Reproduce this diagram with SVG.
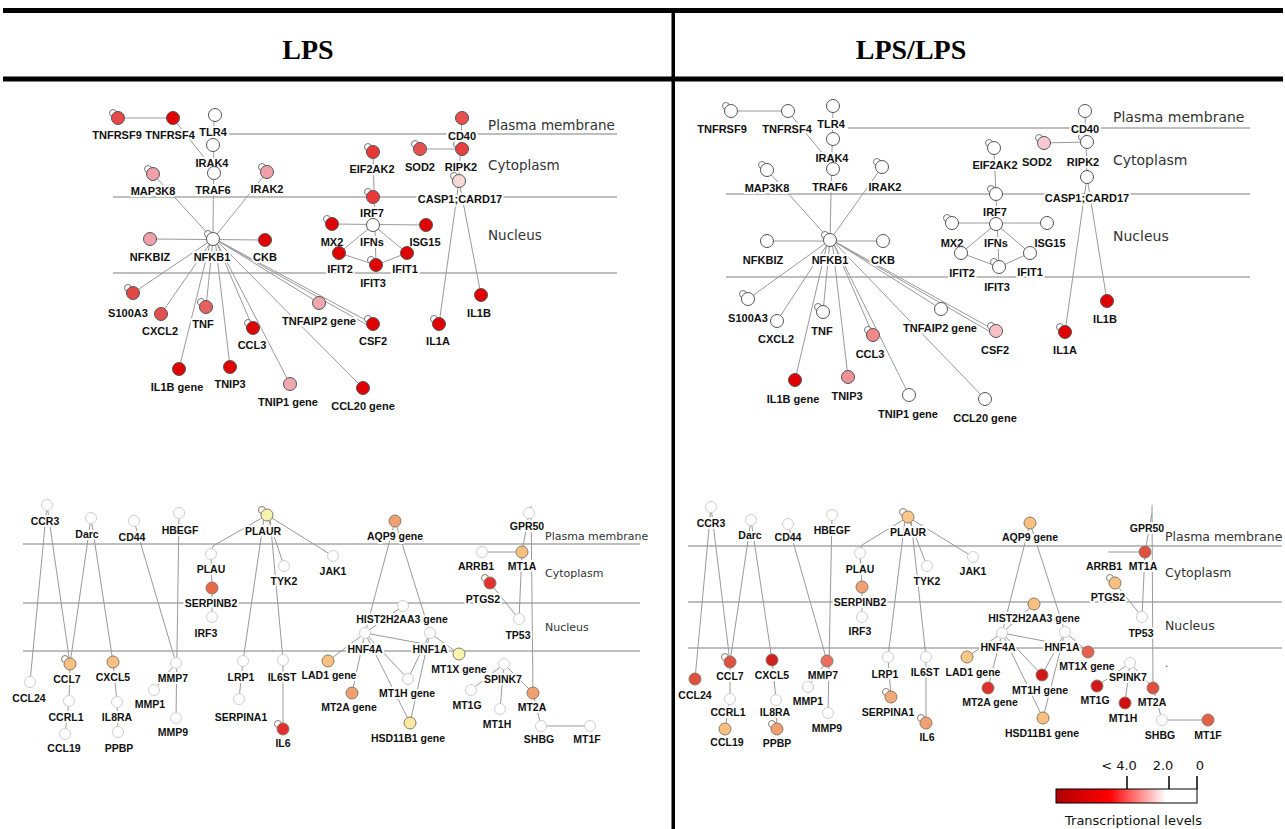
<svg xmlns="http://www.w3.org/2000/svg" width="1285" height="829" viewBox="0 0 1285 829">
<defs>
<linearGradient id="grad" x1="0" y1="0" x2="1" y2="0">
<stop offset="0" stop-color="#b00000"/>
<stop offset="0.38" stop-color="#ff0000"/>
<stop offset="0.62" stop-color="#ff9a9a"/>
<stop offset="0.78" stop-color="#ffffff"/>
<stop offset="1" stop-color="#ffffff"/>
</linearGradient>
</defs>
<style>
.hd{font-family:"Liberation Serif",serif;font-weight:bold;font-size:28px;text-anchor:middle;fill:#000}
.cm{stroke:#a8a8a8;stroke-width:1.5;fill:none}
.ct{font-family:"DejaVu Sans",sans-serif;fill:#333}
.e line,.e polyline{stroke:#9a9a9a;stroke-width:1;fill:none}
.n circle{stroke:#555;stroke-width:1}
.n circle.s{fill:#fff;stroke:#777}
.f circle{stroke:#cfcfcf;stroke-width:1;fill:#fff}
.f circle.c{stroke:#8a7a6a}
text.l{font-family:"Liberation Sans",Arial,sans-serif;font-weight:bold;font-size:11px;text-anchor:middle;fill:#111;paint-order:stroke;stroke:#fff;stroke-width:4px;stroke-linejoin:round}
.f text.l{font-size:10.5px}
.lg{font-family:"DejaVu Sans",sans-serif;font-size:13px;fill:#111}
</style>
<rect width="1285" height="829" fill="#fff"/>
<!-- frame -->
<g id="frame">
<rect x="3" y="8" width="1280" height="5" fill="#000"/>
<rect x="3" y="76.5" width="1280" height="5" fill="#000"/>
<rect x="671.5" y="8" width="3.5" height="821" fill="#000"/>
<text class="hd" x="308" y="59">LPS</text>
<text class="hd" x="911" y="59">LPS/LPS</text>
</g>
<!-- compartments -->
<g id="compartments">
<line class="cm" x1="228" y1="134" x2="617" y2="134"/>
<line class="cm" x1="113" y1="197" x2="617" y2="197"/>
<line class="cm" x1="113" y1="273" x2="617" y2="273"/>
<text class="ct" x="488" y="130" font-size="13.5">Plasma membrane</text>
<text class="ct" x="488" y="170" font-size="13.5">Cytoplasm</text>
<text class="ct" x="488" y="240" font-size="13.5">Nucleus</text>
<line class="cm" x1="848" y1="128" x2="1250" y2="128"/>
<line class="cm" x1="726" y1="194" x2="1250" y2="194"/>
<line class="cm" x1="726" y1="277" x2="1250" y2="277"/>
<text class="ct" x="1113" y="122" font-size="14">Plasma membrane</text>
<text class="ct" x="1113" y="165" font-size="14">Cytoplasm</text>
<text class="ct" x="1113" y="241" font-size="14">Nucleus</text>
<line class="cm" x1="23" y1="544" x2="640" y2="544"/>
<line class="cm" x1="23" y1="603" x2="640" y2="603"/>
<line class="cm" x1="23" y1="651" x2="640" y2="651"/>
<text class="ct" x="545" y="540" font-size="11">Plasma membrane</text>
<text class="ct" x="545" y="577" font-size="11">Cytoplasm</text>
<text class="ct" x="545" y="631" font-size="11">Nucleus</text>
<line class="cm" x1="688" y1="546" x2="1282" y2="546"/>
<line class="cm" x1="688" y1="602" x2="1282" y2="602"/>
<line class="cm" x1="688" y1="648" x2="1282" y2="648"/>
<text class="ct" x="1165" y="541" font-size="12.5">Plasma membrane</text>
<text class="ct" x="1165" y="577" font-size="12.5">Cytoplasm</text>
<text class="ct" x="1165" y="630" font-size="12.5">Nucleus</text>
<text class="ct" x="1165" y="667" font-size="10">.</text>
</g>
<!-- connectors -->
<g id="connectors" class="e">
<!-- top left -->
<line x1="118" y1="118" x2="173" y2="118"/>
<line x1="175" y1="121" x2="211" y2="166"/>
<line x1="214" y1="115" x2="213" y2="239"/>
<line x1="153" y1="174" x2="213" y2="239"/>
<line x1="267" y1="172" x2="213" y2="239"/>
<line x1="150" y1="239" x2="265" y2="240"/>
<line x1="213" y1="239" x2="133" y2="293"/>
<line x1="213" y1="239" x2="161" y2="314"/>
<line x1="213" y1="239" x2="206" y2="307"/>
<line x1="211" y1="239" x2="179" y2="369"/>
<line x1="215" y1="239" x2="230" y2="367"/>
<line x1="215" y1="239" x2="253" y2="328"/>
<line x1="215" y1="239" x2="290" y2="384"/>
<line x1="215" y1="239" x2="319" y2="303"/>
<line x1="215" y1="239" x2="373" y2="324"/>
<line x1="218" y1="241" x2="371" y2="327"/>
<line x1="215" y1="239" x2="363" y2="388"/>
<line x1="373" y1="152" x2="376" y2="265"/>
<line x1="332" y1="224" x2="426" y2="225"/>
<polyline points="339,253 373,225 407,253"/>
<polyline points="339,253 376,265 407,253"/>
<line x1="462" y1="118" x2="459" y2="181"/>
<line x1="420" y1="149" x2="462" y2="149"/>
<line x1="459" y1="181" x2="439" y2="324"/>
<line x1="459" y1="181" x2="481" y2="295"/>
<!-- top right -->
<line x1="731" y1="111" x2="788" y2="111"/>
<line x1="791" y1="115" x2="824" y2="155"/>
<line x1="833" y1="106" x2="830" y2="240"/>
<line x1="767" y1="170" x2="830" y2="240"/>
<line x1="882" y1="167" x2="830" y2="240"/>
<line x1="767" y1="241" x2="883" y2="241"/>
<line x1="830" y1="240" x2="748" y2="299"/>
<line x1="830" y1="240" x2="777" y2="321"/>
<line x1="830" y1="240" x2="823" y2="312"/>
<line x1="828" y1="240" x2="795" y2="380"/>
<line x1="832" y1="240" x2="848" y2="377"/>
<line x1="832" y1="240" x2="873" y2="335"/>
<line x1="832" y1="240" x2="909" y2="395"/>
<line x1="832" y1="240" x2="941" y2="309"/>
<line x1="832" y1="240" x2="996" y2="331"/>
<line x1="835" y1="242" x2="994" y2="334"/>
<line x1="832" y1="240" x2="985" y2="399"/>
<line x1="994" y1="148" x2="999" y2="267"/>
<line x1="952" y1="223" x2="1047" y2="223"/>
<polyline points="961,253 996,224 1030,253"/>
<polyline points="961,253 999,267 1030,253"/>
<line x1="1085" y1="111" x2="1087" y2="177"/>
<line x1="1044" y1="143" x2="1087" y2="142"/>
<line x1="1087" y1="177" x2="1065" y2="332"/>
<line x1="1087" y1="177" x2="1107" y2="301"/>
<!-- bottom left -->
<line x1="47" y1="505" x2="30" y2="682"/>
<line x1="47" y1="505" x2="70" y2="664"/>
<line x1="91" y1="518" x2="70" y2="664"/>
<line x1="91" y1="518" x2="113" y2="662"/>
<line x1="134" y1="521" x2="176" y2="663"/>
<line x1="179" y1="513" x2="176" y2="718"/>
<line x1="176" y1="663" x2="154" y2="690"/>
<polyline points="70,664 69,701 65,734"/>
<polyline points="113,662 117,702 118,732"/>
<polyline points="267,515 213,546 211,554"/>
<line x1="267" y1="515" x2="284" y2="566"/>
<line x1="267" y1="515" x2="333" y2="556"/>
<line x1="264" y1="518" x2="243" y2="661"/>
<line x1="270" y1="518" x2="283" y2="660"/>
<polyline points="211,554 212,588 212,617"/>
<line x1="243" y1="661" x2="239" y2="699"/>
<line x1="283" y1="660" x2="283" y2="729"/>
<line x1="395" y1="521" x2="365" y2="633"/>
<line x1="395" y1="521" x2="430" y2="633"/>
<line x1="403" y1="606" x2="365" y2="633"/>
<line x1="365" y1="633" x2="430" y2="645"/>
<line x1="365" y1="633" x2="328" y2="661"/>
<line x1="365" y1="633" x2="352" y2="693"/>
<line x1="365" y1="633" x2="408" y2="679"/>
<line x1="365" y1="633" x2="410" y2="723"/>
<line x1="430" y1="633" x2="408" y2="679"/>
<line x1="430" y1="633" x2="410" y2="723"/>
<line x1="430" y1="633" x2="459" y2="654"/>
<line x1="529" y1="513" x2="522" y2="552"/>
<line x1="482" y1="552" x2="522" y2="552"/>
<line x1="522" y1="552" x2="519" y2="619"/>
<line x1="490" y1="583" x2="519" y2="619"/>
<line x1="531" y1="506" x2="533" y2="693"/>
<line x1="504" y1="664" x2="471" y2="690"/>
<line x1="504" y1="664" x2="500" y2="709"/>
<line x1="504" y1="664" x2="533" y2="693"/>
<polyline points="533,693 541,726 590,726"/>
<!-- bottom right -->
<line x1="711" y1="507" x2="695" y2="679"/>
<line x1="711" y1="507" x2="730" y2="662"/>
<line x1="751" y1="520" x2="730" y2="662"/>
<line x1="751" y1="520" x2="772" y2="660"/>
<line x1="788" y1="524" x2="827" y2="661"/>
<line x1="832" y1="515" x2="828" y2="713"/>
<line x1="827" y1="661" x2="808" y2="687"/>
<polyline points="730,662 730,699 725,729"/>
<polyline points="772,660 776,700 777,729"/>
<polyline points="908,517 862,545 860,553"/>
<line x1="908" y1="517" x2="927" y2="566"/>
<line x1="908" y1="517" x2="973" y2="557"/>
<line x1="905" y1="520" x2="888" y2="657"/>
<line x1="911" y1="520" x2="926" y2="657"/>
<polyline points="860,553 862,587 862,617"/>
<line x1="888" y1="657" x2="891" y2="697"/>
<line x1="926" y1="657" x2="926" y2="723"/>
<line x1="1030" y1="523" x2="1002" y2="633"/>
<line x1="1030" y1="523" x2="1065" y2="632"/>
<line x1="1034" y1="604" x2="1002" y2="633"/>
<line x1="1002" y1="633" x2="1065" y2="645"/>
<line x1="1002" y1="633" x2="967" y2="657"/>
<line x1="1002" y1="633" x2="988" y2="688"/>
<line x1="1002" y1="633" x2="1042" y2="675"/>
<line x1="1002" y1="633" x2="1043" y2="718"/>
<line x1="1065" y1="632" x2="1042" y2="675"/>
<line x1="1065" y1="632" x2="1043" y2="718"/>
<line x1="1065" y1="632" x2="1088" y2="652"/>
<line x1="1152" y1="513" x2="1145" y2="552"/>
<line x1="1108" y1="552" x2="1145" y2="552"/>
<line x1="1145" y1="552" x2="1142" y2="617"/>
<line x1="1115" y1="583" x2="1142" y2="617"/>
<line x1="1152" y1="505" x2="1153" y2="688"/>
<line x1="1130" y1="663" x2="1097" y2="686"/>
<line x1="1130" y1="663" x2="1125" y2="703"/>
<line x1="1130" y1="663" x2="1153" y2="688"/>
<polyline points="1153,688 1162,720 1208,720"/>
</g>
<!-- nodes: top left (LPS) -->
<g id="tl-TNFRSF9" class="n"><circle class="s" cx="113" cy="113" r="3.5"/><circle cx="118" cy="118" r="6.5" fill="#e84848"/><text class="l" x="117" y="139">TNFRSF9</text></g>
<g id="tl-TNFRSF4" class="n"><circle cx="173" cy="118" r="6.5" fill="#e00000"/><text class="l" x="170" y="139">TNFRSF4</text></g>
<g id="tl-TLR4" class="n"><circle cx="215" cy="115" r="6.5" fill="#fff"/><text class="l" x="213" y="136">TLR4</text></g>
<g id="tl-IRAK4" class="n"><circle cx="213" cy="145" r="6.5" fill="#fff"/><text class="l" x="212" y="167">IRAK4</text></g>
<g id="tl-TRAF6" class="n"><circle cx="214" cy="173" r="6.5" fill="#fff"/><text class="l" x="213" y="194">TRAF6</text></g>
<g id="tl-MAP3K8" class="n"><circle class="s" cx="148" cy="169" r="3.5"/><circle cx="153" cy="174" r="6.5" fill="#f0a0a8"/><text class="l" x="153" y="195">MAP3K8</text></g>
<g id="tl-IRAK2" class="n"><circle class="s" cx="262" cy="167" r="3.5"/><circle cx="267" cy="172" r="6.5" fill="#f0a0a8"/><text class="l" x="267" y="193">IRAK2</text></g>
<g id="tl-NFKB1" class="n"><circle class="s" cx="208" cy="234" r="3.5"/><circle cx="213" cy="239" r="6.5" fill="#fff"/><text class="l" x="212" y="261">NFKB1</text></g>
<g id="tl-NFKBIZ" class="n"><circle cx="150" cy="239" r="6.5" fill="#f0a0a8"/><text class="l" x="150" y="261">NFKBIZ</text></g>
<g id="tl-CKB" class="n"><circle cx="265" cy="240" r="6.5" fill="#e00000"/><text class="l" x="265" y="261">CKB</text></g>
<g id="tl-EIF2AK2" class="n"><circle class="s" cx="368" cy="147" r="3.5"/><circle cx="373" cy="152" r="6.5" fill="#e83838"/><text class="l" x="372" y="173">EIF2AK2</text></g>
<g id="tl-IRF7" class="n"><circle class="s" cx="368" cy="192" r="3.5"/><circle cx="373" cy="197" r="6.5" fill="#e83838"/><text class="l" x="372" y="217">IRF7</text></g>
<g id="tl-IFNs" class="n"><circle cx="373" cy="225" r="6.5" fill="#fff"/><text class="l" x="372" y="246">IFNs</text></g>
<g id="tl-MX2" class="n"><circle class="s" cx="327" cy="219" r="3.5"/><circle cx="332" cy="224" r="6.5" fill="#e00000"/><text class="l" x="332" y="246">MX2</text></g>
<g id="tl-ISG15" class="n"><circle cx="426" cy="225" r="6.5" fill="#e00000"/><text class="l" x="425" y="246">ISG15</text></g>
<g id="tl-IFIT2" class="n"><circle cx="339" cy="253" r="6.5" fill="#e00000"/><text class="l" x="340" y="273">IFIT2</text></g>
<g id="tl-IFIT1" class="n"><circle cx="407" cy="253" r="6.5" fill="#e00000"/><text class="l" x="405" y="273">IFIT1</text></g>
<g id="tl-IFIT3" class="n"><circle class="s" cx="371" cy="260" r="3.5"/><circle cx="376" cy="265" r="6.5" fill="#e00000"/><text class="l" x="373" y="287">IFIT3</text></g>
<g id="tl-SOD2" class="n"><circle class="s" cx="415" cy="144" r="3.5"/><circle cx="420" cy="149" r="6.5" fill="#e85050"/><text class="l" x="420" y="171">SOD2</text></g>
<g id="tl-RIPK2" class="n"><circle class="s" cx="457" cy="144" r="3.5"/><circle cx="462" cy="149" r="6.5" fill="#e84040"/><text class="l" x="461" y="171">RIPK2</text></g>
<g id="tl-CD40" class="n"><circle cx="462" cy="118" r="6.5" fill="#e85050"/><text class="l" x="462" y="140">CD40</text></g>
<g id="tl-CASP1" class="n"><circle class="s" cx="454" cy="176" r="3.5"/><circle cx="459" cy="181" r="6.5" fill="#f8d8d8"/><text class="l" x="460" y="203">CASP1;CARD17</text></g>
<g id="tl-S100A3" class="n"><circle class="s" cx="128" cy="288" r="3.5"/><circle cx="133" cy="293" r="6.5" fill="#e04848"/><text class="l" x="128" y="317">S100A3</text></g>
<g id="tl-CXCL2" class="n"><circle cx="161" cy="314" r="6.5" fill="#e05050"/><text class="l" x="160" y="335">CXCL2</text></g>
<g id="tl-TNF" class="n"><circle class="s" cx="201" cy="302" r="3.5"/><circle cx="206" cy="307" r="6.5" fill="#e86060"/><text class="l" x="203" y="328">TNF</text></g>
<g id="tl-CCL3" class="n"><circle class="s" cx="248" cy="323" r="3.5"/><circle cx="253" cy="328" r="6.5" fill="#e00000"/><text class="l" x="252" y="349">CCL3</text></g>
<g id="tl-TNFAIP2" class="n"><circle cx="319" cy="303" r="6.5" fill="#f0a8b0"/><text class="l" x="319" y="325">TNFAIP2 gene</text></g>
<g id="tl-CSF2" class="n"><circle class="s" cx="368" cy="319" r="3.5"/><circle cx="373" cy="324" r="6.5" fill="#e00000"/><text class="l" x="373" y="345">CSF2</text></g>
<g id="tl-IL1A" class="n"><circle class="s" cx="434" cy="319" r="3.5"/><circle cx="439" cy="324" r="6.5" fill="#e00000"/><text class="l" x="438" y="345">IL1A</text></g>
<g id="tl-IL1B" class="n"><circle cx="481" cy="295" r="6.5" fill="#e00000"/><text class="l" x="479" y="317">IL1B</text></g>
<g id="tl-IL1Bgene" class="n"><circle cx="179" cy="369" r="6.5" fill="#e00000"/><text class="l" x="177" y="391">IL1B gene</text></g>
<g id="tl-TNIP3" class="n"><circle cx="230" cy="367" r="6.5" fill="#e00000"/><text class="l" x="230" y="388">TNIP3</text></g>
<g id="tl-TNIP1" class="n"><circle cx="290" cy="384" r="6.5" fill="#f0a8b0"/><text class="l" x="288" y="406">TNIP1 gene</text></g>
<g id="tl-CCL20" class="n"><circle cx="363" cy="388" r="6.5" fill="#e00000"/><text class="l" x="363" y="410">CCL20 gene</text></g>
<!-- nodes: top right (LPS/LPS) -->
<g id="tr-TNFRSF9" class="n"><circle class="s" cx="726" cy="106" r="3.5"/><circle cx="731" cy="111" r="6.5" fill="#fff"/><text class="l" x="722" y="133">TNFRSF9</text></g>
<g id="tr-TNFRSF4" class="n"><circle cx="788" cy="111" r="6.5" fill="#fff"/><text class="l" x="787" y="133">TNFRSF4</text></g>
<g id="tr-TLR4" class="n"><circle cx="833" cy="106" r="6.5" fill="#fff"/><text class="l" x="831" y="128">TLR4</text></g>
<g id="tr-IRAK4" class="n"><circle cx="833" cy="139" r="6.5" fill="#fff"/><text class="l" x="832" y="162">IRAK4</text></g>
<g id="tr-TRAF6" class="n"><circle cx="833" cy="169" r="6.5" fill="#fff"/><text class="l" x="830" y="191">TRAF6</text></g>
<g id="tr-MAP3K8" class="n"><circle class="s" cx="762" cy="165" r="3.5"/><circle cx="767" cy="170" r="6.5" fill="#fff"/><text class="l" x="767" y="192">MAP3K8</text></g>
<g id="tr-IRAK2" class="n"><circle class="s" cx="877" cy="162" r="3.5"/><circle cx="882" cy="167" r="6.5" fill="#fff"/><text class="l" x="885" y="191">IRAK2</text></g>
<g id="tr-NFKB1" class="n"><circle class="s" cx="825" cy="235" r="3.5"/><circle cx="830" cy="240" r="6.5" fill="#fff"/><text class="l" x="830" y="264">NFKB1</text></g>
<g id="tr-NFKBIZ" class="n"><circle cx="767" cy="241" r="6.5" fill="#fff"/><text class="l" x="763" y="264">NFKBIZ</text></g>
<g id="tr-CKB" class="n"><circle cx="883" cy="241" r="6.5" fill="#fff"/><text class="l" x="883" y="264">CKB</text></g>
<g id="tr-EIF2AK2" class="n"><circle class="s" cx="989" cy="143" r="3.5"/><circle cx="994" cy="148" r="6.5" fill="#fff"/><text class="l" x="995" y="169">EIF2AK2</text></g>
<g id="tr-IRF7" class="n"><circle class="s" cx="991" cy="189" r="3.5"/><circle cx="996" cy="194" r="6.5" fill="#fff"/><text class="l" x="995" y="216">IRF7</text></g>
<g id="tr-IFNs" class="n"><circle cx="996" cy="224" r="6.5" fill="#fff"/><text class="l" x="996" y="247">IFNs</text></g>
<g id="tr-MX2" class="n"><circle class="s" cx="947" cy="218" r="3.5"/><circle cx="952" cy="223" r="6.5" fill="#fff"/><text class="l" x="952" y="247">MX2</text></g>
<g id="tr-ISG15" class="n"><circle cx="1047" cy="223" r="6.5" fill="#fff"/><text class="l" x="1050" y="247">ISG15</text></g>
<g id="tr-IFIT2" class="n"><circle cx="961" cy="253" r="6.5" fill="#fff"/><text class="l" x="962" y="277">IFIT2</text></g>
<g id="tr-IFIT1" class="n"><circle cx="1030" cy="253" r="6.5" fill="#fff"/><text class="l" x="1030" y="276">IFIT1</text></g>
<g id="tr-IFIT3" class="n"><circle class="s" cx="994" cy="262" r="3.5"/><circle cx="999" cy="267" r="6.5" fill="#fff"/><text class="l" x="997" y="291">IFIT3</text></g>
<g id="tr-SOD2" class="n"><circle class="s" cx="1039" cy="138" r="3.5"/><circle cx="1044" cy="143" r="6.5" fill="#f8c8d0"/><text class="l" x="1037" y="166">SOD2</text></g>
<g id="tr-RIPK2" class="n"><circle class="s" cx="1082" cy="137" r="3.5"/><circle cx="1087" cy="142" r="6.5" fill="#fff"/><text class="l" x="1083" y="166">RIPK2</text></g>
<g id="tr-CD40" class="n"><circle cx="1085" cy="111" r="6.5" fill="#fff"/><text class="l" x="1085" y="133">CD40</text></g>
<g id="tr-CASP1" class="n"><circle cx="1087" cy="177" r="6.5" fill="#fff"/><text class="l" x="1087" y="202">CASP1;CARD17</text></g>
<g id="tr-S100A3" class="n"><circle class="s" cx="743" cy="294" r="3.5"/><circle cx="748" cy="299" r="6.5" fill="#fff"/><text class="l" x="748" y="322">S100A3</text></g>
<g id="tr-CXCL2" class="n"><circle cx="777" cy="321" r="6.5" fill="#fff"/><text class="l" x="776" y="343">CXCL2</text></g>
<g id="tr-TNF" class="n"><circle class="s" cx="818" cy="307" r="3.5"/><circle cx="823" cy="312" r="6.5" fill="#fff"/><text class="l" x="822" y="335">TNF</text></g>
<g id="tr-CCL3" class="n"><circle class="s" cx="868" cy="330" r="3.5"/><circle cx="873" cy="335" r="6.5" fill="#f08888"/><text class="l" x="870" y="358">CCL3</text></g>
<g id="tr-TNFAIP2" class="n"><circle cx="941" cy="309" r="6.5" fill="#fff"/><text class="l" x="940" y="332">TNFAIP2 gene</text></g>
<g id="tr-CSF2" class="n"><circle class="s" cx="991" cy="326" r="3.5"/><circle cx="996" cy="331" r="6.5" fill="#f8c0c8"/><text class="l" x="995" y="354">CSF2</text></g>
<g id="tr-IL1A" class="n"><circle class="s" cx="1060" cy="327" r="3.5"/><circle cx="1065" cy="332" r="6.5" fill="#e00000"/><text class="l" x="1065" y="354">IL1A</text></g>
<g id="tr-IL1B" class="n"><circle cx="1107" cy="301" r="6.5" fill="#e00000"/><text class="l" x="1105" y="323">IL1B</text></g>
<g id="tr-IL1Bgene" class="n"><circle cx="795" cy="380" r="6.5" fill="#e00000"/><text class="l" x="793" y="403">IL1B gene</text></g>
<g id="tr-TNIP3" class="n"><circle cx="848" cy="377" r="6.5" fill="#f09098"/><text class="l" x="847" y="400">TNIP3</text></g>
<g id="tr-TNIP1" class="n"><circle cx="909" cy="395" r="6.5" fill="#fff"/><text class="l" x="908" y="418">TNIP1 gene</text></g>
<g id="tr-CCL20" class="n"><circle cx="985" cy="399" r="6.5" fill="#fff"/><text class="l" x="985" y="422">CCL20 gene</text></g>
<!-- nodes: bottom left (LPS) -->
<g id="bl-CCR3" class="f"><circle cx="47" cy="505" r="5.5"/><text class="l" x="45" y="525">CCR3</text></g>
<g id="bl-Darc" class="f"><circle cx="91" cy="518" r="5.5"/><text class="l" x="87" y="538">Darc</text></g>
<g id="bl-CD44" class="f"><circle cx="134" cy="521" r="5.5"/><text class="l" x="132" y="541">CD44</text></g>
<g id="bl-HBEGF" class="f"><circle cx="179" cy="513" r="5.5"/><text class="l" x="180" y="534">HBEGF</text></g>
<g id="bl-PLAUR" class="f"><circle class="c" cx="262" cy="510" r="3.5"/><circle class="c" cx="267" cy="515" r="6" style="fill:#f8f4b0"/><text class="l" x="263" y="535">PLAUR</text></g>
<g id="bl-PLAU" class="f"><circle cx="211" cy="554" r="5.5"/><text class="l" x="211" y="573">PLAU</text></g>
<g id="bl-TYK2" class="f"><circle cx="284" cy="566" r="5.5"/><text class="l" x="284" y="585">TYK2</text></g>
<g id="bl-JAK1" class="f"><circle cx="333" cy="556" r="5.5"/><text class="l" x="333" y="575">JAK1</text></g>
<g id="bl-SERPINB2" class="f"><circle class="c" cx="212" cy="588" r="6" style="fill:#e86848"/><text class="l" x="211" y="607">SERPINB2</text></g>
<g id="bl-IRF3" class="f"><circle cx="212" cy="617" r="5.5"/><text class="l" x="206" y="637">IRF3</text></g>
<g id="bl-CCL7" class="f"><circle class="c" cx="65" cy="659" r="3.5"/><circle class="c" cx="70" cy="664" r="6" style="fill:#f8c080"/><text class="l" x="67" y="683">CCL7</text></g>
<g id="bl-CXCL5" class="f"><circle class="c" cx="113" cy="662" r="6" style="fill:#f8c080"/><text class="l" x="113" y="681">CXCL5</text></g>
<g id="bl-CCL24" class="f"><circle cx="30" cy="682" r="5.5"/><text class="l" x="29" y="702">CCL24</text></g>
<g id="bl-MMP7" class="f"><circle cx="176" cy="663" r="5.5"/><text class="l" x="173" y="682">MMP7</text></g>
<g id="bl-MMP1" class="f"><circle cx="154" cy="690" r="5.5"/><text class="l" x="150" y="708">MMP1</text></g>
<g id="bl-MMP9" class="f"><circle cx="176" cy="718" r="5.5"/><text class="l" x="173" y="736">MMP9</text></g>
<g id="bl-CCRL1" class="f"><circle cx="69" cy="701" r="5.5"/><text class="l" x="66" y="721">CCRL1</text></g>
<g id="bl-CCL19" class="f"><circle cx="65" cy="734" r="5.5"/><text class="l" x="64" y="752">CCL19</text></g>
<g id="bl-IL8RA" class="f"><circle cx="117" cy="702" r="5.5"/><text class="l" x="117" y="721">IL8RA</text></g>
<g id="bl-PPBP" class="f"><circle cx="118" cy="732" r="5.5"/><text class="l" x="119" y="752">PPBP</text></g>
<g id="bl-LRP1" class="f"><circle cx="243" cy="661" r="5.5"/><text class="l" x="241" y="681">LRP1</text></g>
<g id="bl-SERPINA1" class="f"><circle cx="239" cy="699" r="5.5"/><text class="l" x="241" y="721">SERPINA1</text></g>
<g id="bl-IL6ST" class="f"><circle cx="283" cy="660" r="5.5"/><text class="l" x="282" y="681">IL6ST</text></g>
<g id="bl-IL6" class="f"><circle class="c" cx="278" cy="724" r="3.5"/><circle class="c" cx="283" cy="729" r="6" style="fill:#e03030"/><text class="l" x="283" y="747">IL6</text></g>
<g id="bl-LAD1" class="f"><circle class="c" cx="328" cy="661" r="6" style="fill:#f8c080"/><text class="l" x="329" y="679">LAD1 gene</text></g>
<g id="bl-AQP9" class="f"><circle class="c" cx="395" cy="521" r="6" style="fill:#f0a070"/><text class="l" x="395" y="540">AQP9 gene</text></g>
<g id="bl-HIST2H2AA3" class="f"><circle cx="403" cy="606" r="5.5"/><text class="l" x="402" y="623">HIST2H2AA3 gene</text></g>
<g id="bl-HNF4A" class="f"><circle cx="365" cy="633" r="5.5"/><text class="l" x="365" y="653">HNF4A</text></g>
<g id="bl-HNF1A" class="f"><circle cx="430" cy="633" r="5.5"/><text class="l" x="430" y="653">HNF1A</text></g>
<g id="bl-MT1Xgene" class="f"><circle class="c" cx="459" cy="654" r="6" style="fill:#f8f4b0"/><text class="l" x="459" y="673">MT1X gene</text></g>
<g id="bl-MT2Agene" class="f"><circle class="c" cx="352" cy="693" r="6" style="fill:#f0a070"/><text class="l" x="349" y="711">MT2A gene</text></g>
<g id="bl-MT1Hgene" class="f"><circle cx="408" cy="679" r="5.5"/><text class="l" x="407" y="697">MT1H gene</text></g>
<g id="bl-HSD11B1" class="f"><circle class="c" cx="410" cy="723" r="6" style="fill:#f8e8a0"/><text class="l" x="408" y="742">HSD11B1 gene</text></g>
<g id="bl-GPR50" class="f"><circle cx="529" cy="513" r="5.5"/><text class="l" x="527" y="530">GPR50</text></g>
<g id="bl-MT1A" class="f"><circle class="c" cx="522" cy="552" r="6" style="fill:#f8c080"/><text class="l" x="522" y="570">MT1A</text></g>
<g id="bl-ARRB1" class="f"><circle cx="482" cy="552" r="5.5"/><text class="l" x="476" y="570">ARRB1</text></g>
<g id="bl-PTGS2" class="f"><circle class="c" cx="485" cy="578" r="3.5"/><circle class="c" cx="490" cy="583" r="6" style="fill:#e03030"/><text class="l" x="483" y="603">PTGS2</text></g>
<g id="bl-TP53" class="f"><circle cx="519" cy="619" r="5.5"/><text class="l" x="518" y="639">TP53</text></g>
<g id="bl-SPINK7" class="f"><circle cx="504" cy="664" r="5.5"/><text class="l" x="503" y="683">SPINK7</text></g>
<g id="bl-MT1G" class="f"><circle cx="471" cy="690" r="5.5"/><text class="l" x="467" y="709">MT1G</text></g>
<g id="bl-MT1H" class="f"><circle cx="500" cy="709" r="5.5"/><text class="l" x="497" y="728">MT1H</text></g>
<g id="bl-MT2A" class="f"><circle class="c" cx="533" cy="693" r="6" style="fill:#f0a070"/><text class="l" x="532" y="711">MT2A</text></g>
<g id="bl-SHBG" class="f"><circle cx="541" cy="726" r="5.5"/><text class="l" x="539" y="743">SHBG</text></g>
<g id="bl-MT1F" class="f"><circle cx="590" cy="726" r="5.5"/><text class="l" x="587" y="743">MT1F</text></g>
<!-- nodes: bottom right (LPS/LPS) -->
<g id="br-CCR3" class="f"><circle cx="711" cy="507" r="5.5"/><text class="l" x="711" y="527">CCR3</text></g>
<g id="br-Darc" class="f"><circle cx="751" cy="520" r="5.5"/><text class="l" x="750" y="539">Darc</text></g>
<g id="br-CD44" class="f"><circle cx="788" cy="524" r="5.5"/><text class="l" x="788" y="541">CD44</text></g>
<g id="br-HBEGF" class="f"><circle cx="832" cy="515" r="5.5"/><text class="l" x="832" y="534">HBEGF</text></g>
<g id="br-PLAUR" class="f"><circle class="c" cx="903" cy="512" r="3.5"/><circle class="c" cx="908" cy="517" r="6" style="fill:#f8c888"/><text class="l" x="908" y="536">PLAUR</text></g>
<g id="br-PLAU" class="f"><circle cx="860" cy="553" r="5.5"/><text class="l" x="860" y="573">PLAU</text></g>
<g id="br-TYK2" class="f"><circle cx="927" cy="566" r="5.5"/><text class="l" x="927" y="585">TYK2</text></g>
<g id="br-JAK1" class="f"><circle cx="973" cy="557" r="5.5"/><text class="l" x="973" y="575">JAK1</text></g>
<g id="br-SERPINB2" class="f"><circle class="c" cx="862" cy="587" r="6" style="fill:#f0a070"/><text class="l" x="860" y="606">SERPINB2</text></g>
<g id="br-IRF3" class="f"><circle cx="862" cy="617" r="5.5"/><text class="l" x="860" y="635">IRF3</text></g>
<g id="br-CCL24" class="f"><circle class="c" cx="695" cy="679" r="6" style="fill:#e05040"/><text class="l" x="695" y="699">CCL24</text></g>
<g id="br-CCL7" class="f"><circle class="c" cx="725" cy="657" r="3.5"/><circle class="c" cx="730" cy="662" r="6" style="fill:#e05040"/><text class="l" x="730" y="680">CCL7</text></g>
<g id="br-CXCL5" class="f"><circle class="c" cx="772" cy="660" r="6" style="fill:#d02020"/><text class="l" x="772" y="679">CXCL5</text></g>
<g id="br-MMP7" class="f"><circle class="c" cx="827" cy="661" r="6" style="fill:#e87060"/><text class="l" x="823" y="679">MMP7</text></g>
<g id="br-MMP1" class="f"><circle cx="808" cy="687" r="5.5"/><text class="l" x="808" y="705">MMP1</text></g>
<g id="br-MMP9" class="f"><circle cx="828" cy="713" r="5.5"/><text class="l" x="827" y="732">MMP9</text></g>
<g id="br-CCRL1" class="f"><circle cx="730" cy="699" r="5.5"/><text class="l" x="728" y="716">CCRL1</text></g>
<g id="br-CCL19" class="f"><circle class="c" cx="725" cy="729" r="6" style="fill:#f8c080"/><text class="l" x="727" y="746">CCL19</text></g>
<g id="br-IL8RA" class="f"><circle cx="776" cy="700" r="5.5"/><text class="l" x="775" y="716">IL8RA</text></g>
<g id="br-PPBP" class="f"><circle class="c" cx="772" cy="724" r="3.5"/><circle class="c" cx="777" cy="729" r="6" style="fill:#f0a070"/><text class="l" x="777" y="747">PPBP</text></g>
<g id="br-LRP1" class="f"><circle cx="888" cy="657" r="5.5"/><text class="l" x="885" y="678">LRP1</text></g>
<g id="br-SERPINA1" class="f"><circle class="c" cx="886" cy="692" r="3.5"/><circle class="c" cx="891" cy="697" r="6" style="fill:#f0a878"/><text class="l" x="888" y="716">SERPINA1</text></g>
<g id="br-IL6ST" class="f"><circle cx="926" cy="657" r="5.5"/><text class="l" x="925" y="676">IL6ST</text></g>
<g id="br-IL6" class="f"><circle class="c" cx="921" cy="718" r="3.5"/><circle class="c" cx="926" cy="723" r="6" style="fill:#f0a070"/><text class="l" x="927" y="741">IL6</text></g>
<g id="br-LAD1" class="f"><circle class="c" cx="967" cy="657" r="6" style="fill:#f8c888"/><text class="l" x="973" y="676">LAD1 gene</text></g>
<g id="br-MT2Agene" class="f"><circle class="c" cx="988" cy="688" r="6" style="fill:#e03030"/><text class="l" x="990" y="706">MT2A gene</text></g>
<g id="br-AQP9" class="f"><circle class="c" cx="1030" cy="523" r="6" style="fill:#f8c080"/><text class="l" x="1030" y="541">AQP9 gene</text></g>
<g id="br-HIST2H2AA3" class="f"><circle class="c" cx="1034" cy="604" r="6" style="fill:#f8c080"/><text class="l" x="1034" y="622">HIST2H2AA3 gene</text></g>
<g id="br-HNF4A" class="f"><circle cx="1002" cy="633" r="5.5"/><text class="l" x="998" y="651">HNF4A</text></g>
<g id="br-HNF1A" class="f"><circle cx="1065" cy="632" r="5.5"/><text class="l" x="1062" y="651">HNF1A</text></g>
<g id="br-MT1Xgene" class="f"><circle class="c" cx="1088" cy="652" r="6" style="fill:#e86050"/><text class="l" x="1087" y="670">MT1X gene</text></g>
<g id="br-MT1Hgene" class="f"><circle class="c" cx="1042" cy="675" r="6" style="fill:#d01818"/><text class="l" x="1040" y="694">MT1H gene</text></g>
<g id="br-HSD11B1" class="f"><circle class="c" cx="1043" cy="718" r="6" style="fill:#f8c080"/><text class="l" x="1042" y="737">HSD11B1 gene</text></g>
<g id="br-GPR50" class="f"><text class="l" x="1147" y="532">GPR50</text></g>
<g id="br-MT1A" class="f"><circle class="c" cx="1145" cy="552" r="6" style="fill:#e05040"/><text class="l" x="1143" y="570">MT1A</text></g>
<g id="br-ARRB1" class="f"><text class="l" x="1104" y="570">ARRB1</text></g>
<g id="br-PTGS2" class="f"><circle class="c" cx="1110" cy="578" r="3.5"/><circle class="c" cx="1115" cy="583" r="6" style="fill:#f8c080"/><text class="l" x="1108" y="601">PTGS2</text></g>
<g id="br-TP53" class="f"><circle cx="1142" cy="617" r="5.5"/><text class="l" x="1141" y="637">TP53</text></g>
<g id="br-SPINK7" class="f"><circle cx="1130" cy="663" r="5.5"/><text class="l" x="1128" y="681">SPINK7</text></g>
<g id="br-MT1G" class="f"><circle class="c" cx="1097" cy="686" r="6" style="fill:#d01818"/><text class="l" x="1095" y="704">MT1G</text></g>
<g id="br-MT1H" class="f"><circle class="c" cx="1125" cy="703" r="6" style="fill:#d01010"/><text class="l" x="1123" y="722">MT1H</text></g>
<g id="br-MT2A" class="f"><circle class="c" cx="1153" cy="688" r="6" style="fill:#e05040"/><text class="l" x="1152" y="706">MT2A</text></g>
<g id="br-SHBG" class="f"><circle cx="1162" cy="720" r="5.5"/><text class="l" x="1160" y="739">SHBG</text></g>
<g id="br-MT1F" class="f"><circle class="c" cx="1208" cy="720" r="6" style="fill:#e06048"/><text class="l" x="1208" y="739">MT1F</text></g>
<!-- legend -->
<g id="legend">
<rect x="1056" y="789" width="141" height="14" fill="url(#grad)" stroke="#000" stroke-width="1"/>
<line x1="1127" y1="776" x2="1127" y2="789" stroke="#000" stroke-width="1.5"/>
<line x1="1169" y1="776" x2="1169" y2="789" stroke="#000" stroke-width="1.5"/>
<line x1="1197" y1="776" x2="1197" y2="789" stroke="#000" stroke-width="1.5"/>
<text class="lg" x="1119" y="770" text-anchor="middle">&lt; 4.0</text>
<text class="lg" x="1163" y="770" text-anchor="middle">2.0</text>
<text class="lg" x="1200" y="770" text-anchor="middle">0</text>
<text class="lg" x="1065" y="825">Transcriptional levels</text>
</g>
</svg>
